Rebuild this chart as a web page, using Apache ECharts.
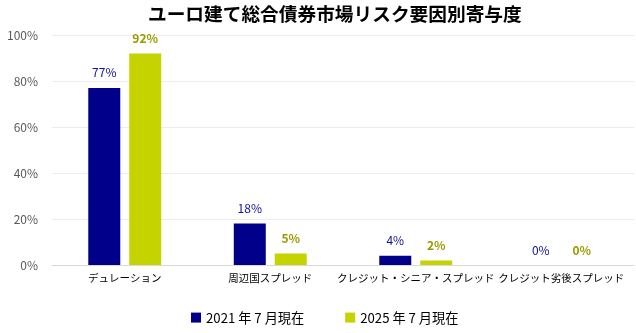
<!DOCTYPE html>
<html><head><meta charset="utf-8">
<script src="https://cdn.jsdelivr.net/npm/echarts@6/dist/echarts.min.js"></script>
<style>html,body{margin:0;padding:0;background:#fff}#c{width:636px;height:333px}</style>
</head><body><div id="c"></div>
<script>
const categories = ["デュレーション", "周辺国スプレッド", "クレジット・シニア・スプレッド", "クレジット劣後スプレッド"];
const seriesNames = ["2021 年 7 月現在", "2025 年 7 月現在"];
const values2021 = [77, 18, 4, 0];
const values2025 = [92, 5, 2, 0];
const yTicks = [0, 20, 40, 60, 80, 100];

const font = '"Noto Sans CJK JP", "Noto Sans", sans-serif';
const chart = echarts.init(document.getElementById('c'));
chart.setOption({
  animation: false,
  title: {
    text: "ユーロ建て総合債券市場リスク要因別寄与度",
    left: 143, top: 0,
    textStyle: {fontSize: 18.7, fontWeight: 'bold', color: '#000', fontFamily: font}
  },
  legend: {
    top: 306, left: 186, itemWidth: 10, itemHeight: 10, itemGap: 41,
    icon: 'rect',
    textStyle: {fontSize: 13.2, color: '#000', fontFamily: font},
    data: seriesNames
  },
  grid: {left: 52, right: 2, top: 35, bottom: 68, containLabel: false},
  xAxis: {
    type: 'category', data: categories,
    axisTick: {show: false},
    axisLine: {lineStyle: {color: '#d9d9d9'}},
    axisLabel: {fontSize: 10.5, color: '#000', fontFamily: font, interval: 0, margin: 8}
  },
  yAxis: {
    type: 'value', min: 0, max: 100, interval: 20,
    axisLabel: {formatter: v => yTicks.includes(v) ? v + '%' : '', fontSize: 12, color: '#595959', fontFamily: font, margin: 14},
    splitLine: {lineStyle: {color: '#ececec'}},
    axisLine: {show: false}, axisTick: {show: false}
  },
  series: [
    {
      name: seriesNames[0], type: 'bar', data: values2021,
      barWidth: 32, barGap: '28%',
      itemStyle: {color: '#00008B'},
      label: {show: true, position: 'top', distance: 9, formatter: '{c}%', color: '#10109a', fontSize: 12, fontFamily: font}
    },
    {
      name: seriesNames[1], type: 'bar', data: values2025,
      barWidth: 32,
      itemStyle: {color: '#C5D300'},
      label: {show: true, position: 'top', distance: 9, formatter: '{c}%', color: '#9a9a00', fontSize: 12, fontWeight: 'bold', fontFamily: font}
    }
  ]
});
</script></body></html>
